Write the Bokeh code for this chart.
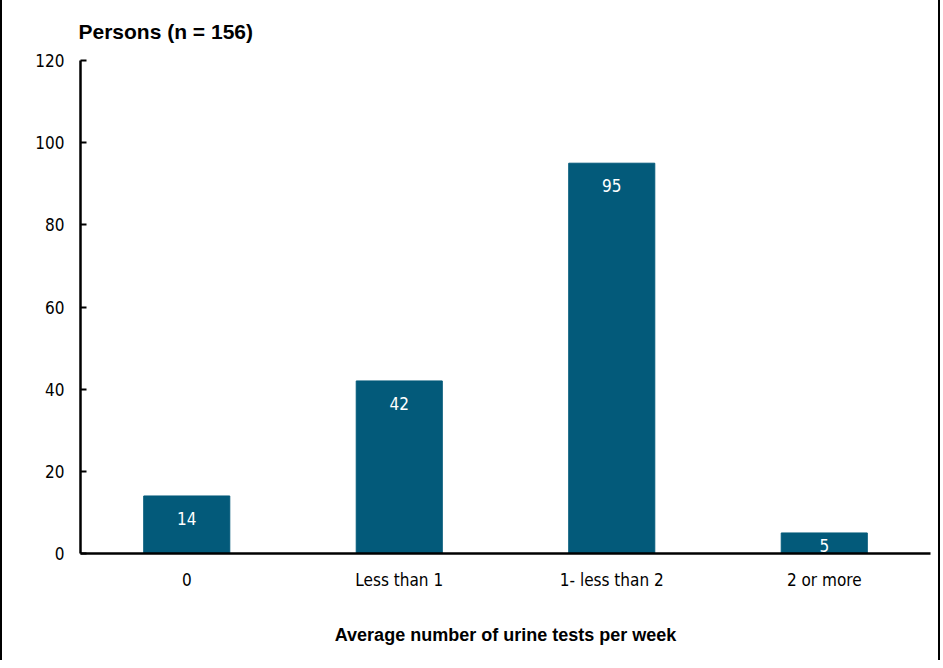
from bokeh.plotting import figure
from bokeh.models import ColumnDataSource, FixedTicker
from bokeh.core.properties import value
from bokeh.embed import file_html
from bokeh.resources import INLINE

categories = ["0", "Less than 1", "1- less than 2", "2 or more"]
persons = [14, 42, 95, 5]
y_ticks = [0, 20, 40, 60, 80, 100, 120]
title_text = "Persons (n = 156)"
x_title = "Average number of urine tests per week"

NARROW = "DejaVu Sans Condensed"
BAR_COLOR = "#035a7a"

W, H = 940, 660
p = figure(x_range=categories, y_range=(0, 120), width=W, height=H,
           output_backend="svg", toolbar_location=None,
           min_border_left=78, min_border_right=12, min_border_top=58,
           min_border_bottom=107)
p.styles = {"border-left": "2px solid black", "border-right": "2px solid black"}
p.outline_line_color = None
p.xgrid.grid_line_color = None
p.ygrid.grid_line_color = None
p.x_range.range_padding = 0

p.title.text = title_text
p.title.text_font = "Liberation Sans"
p.title.text_font_style = "bold"
p.title.text_font_size = "21px"
p.title.text_line_height = 1.0
p.title.text_color = "black"
p.title.align = "left"
p.title.offset = -2
p.title.standoff = 35

label_y = [max(v - 5.5, v * 0.4) for v in persons]
src = ColumnDataSource(dict(cat=categories, v=persons, ly=label_y,
                            txt=[str(v) for v in persons]))
p.vbar(x="cat", top="v", bottom=0, width=0.405, source=src,
       fill_color=BAR_COLOR, line_color=BAR_COLOR)
p.text(x="cat", y="ly", text="txt", source=src, text_color="white",
       text_align="center", text_baseline="middle",
       text_font=value(NARROW), text_font_size="17px")

ya = p.yaxis[0]
ya.ticker = FixedTicker(ticks=y_ticks)
ya.major_tick_in = 6
ya.major_tick_out = 0
ya.minor_tick_line_color = None
ya.axis_line_width = 2.5
ya.major_tick_line_width = 2
ya.major_label_text_font = NARROW
ya.major_label_text_font_size = "17px"
ya.major_label_text_color = "black"
ya.major_label_standoff = 16

xa = p.xaxis[0]
xa.major_tick_line_color = None
xa.minor_tick_line_color = None
xa.axis_line_width = 2.5
xa.major_label_text_font = NARROW
xa.major_label_text_font_size = "17px"
xa.major_label_text_color = "black"
xa.major_label_standoff = 10
xa.axis_label = x_title
xa.axis_label_text_font = "Liberation Sans"
xa.axis_label_text_font_style = "bold"
xa.axis_label_text_font_size = "18px"
xa.axis_label_text_color = "black"
xa.axis_label_standoff = 32

open("out.html", "w").write(file_html(p, INLINE))
